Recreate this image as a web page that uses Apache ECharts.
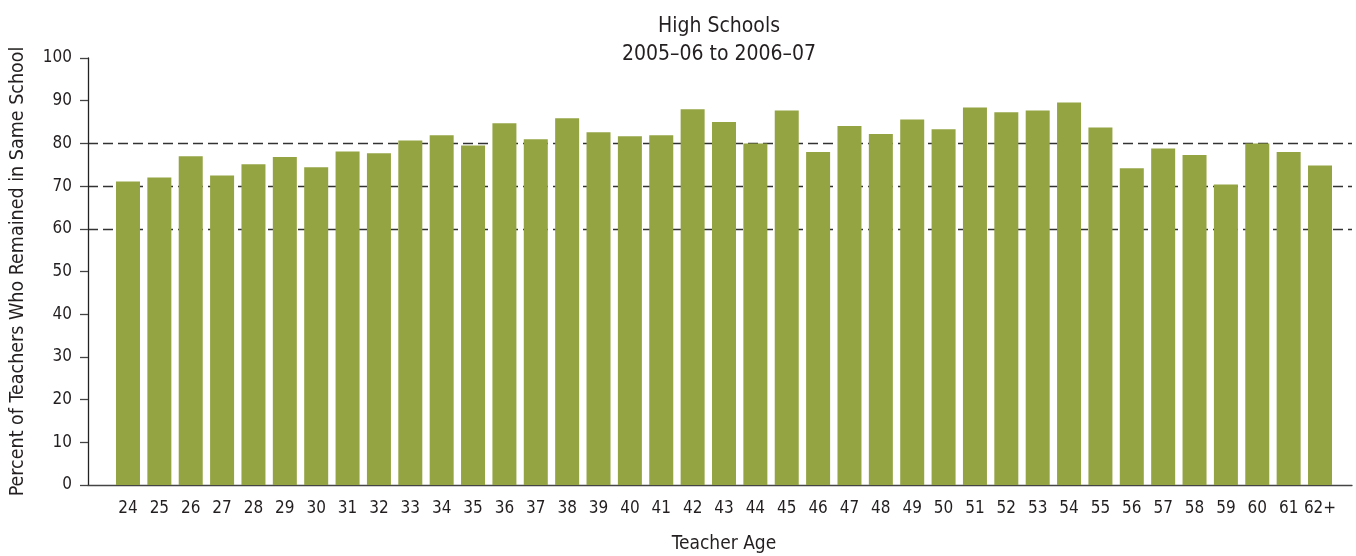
<!DOCTYPE html>
<html>
<head>
<meta charset="utf-8">
<script src="https://cdn.jsdelivr.net/npm/echarts@6/dist/echarts.min.js"></script>
<style>html,body{margin:0;padding:0;background:#fff}#c{width:1356px;height:556px}</style>
</head>
<body>
<div id="c"></div>
<script>
const ages = ['24','25','26','27','28','29','30','31','32','33','34','35','36','37','38','39','40','41','42','43','44','45','46','47','48','49','50','51','52','53','54','55','56','57','58','59','60','61','62+'];
const percentRemained = [71.1,72.0,77.0,72.5,75.1,76.8,74.4,78.1,77.7,80.7,81.9,79.5,84.7,81.0,85.9,82.6,81.7,81.9,88.0,85.0,80.0,87.7,78.0,84.1,82.2,85.6,83.3,88.4,87.3,87.7,89.6,83.7,74.2,78.8,77.3,70.4,80.0,78.0,74.8];
const yTicks = [0,10,20,30,40,50,60,70,80,90,100];
const dashedAt = [60,70,80];

const FONT = "'Liberation Sans Narrow','DejaVu Sans Condensed','Roboto Condensed',sans-serif";
const TXT = '#231f20';
const splitColors = yTicks.map(v => dashedAt.includes(v) ? '#333333' : 'rgba(0,0,0,0)');

const chart = echarts.init(document.getElementById('c'), null, {renderer:'canvas'});
chart.setOption({
  animation: false,
  backgroundColor: '#ffffff',
  title: {
    text: 'High Schools\n2005–06 to 2006–07',
    left: 714, top: 8, textAlign: 'center',
    textStyle: {fontFamily: FONT, fontSize: 21, fontWeight: 'normal', color: TXT, lineHeight: 28}
  },
  grid: [
    {left: 88, right: 4, top: 58, bottom: 71, containLabel: false, outerBoundsMode: 'none'},
    {left: 112.3, right: 20.3, top: 58, bottom: 71, containLabel: false, outerBoundsMode: 'none'}
  ],
  xAxis: [
    {gridIndex: 0, type: 'value', min: 0, max: 1, axisLine: {show: true, onZero: false, lineStyle: {color: '#444', width: 1.3}},
     axisTick: {show: false}, axisLabel: {show: false}, splitLine: {show: false}},
    {gridIndex: 1, type: 'category', data: ages, axisLine: {show: false}, axisTick: {show: false},
     axisLabel: {fontFamily: FONT, fontSize: 17, color: TXT, margin: 15, interval: 0},
     name: 'Teacher Age', nameLocation: 'middle', nameGap: 50,
     nameTextStyle: {fontFamily: FONT, fontSize: 19, color: TXT}}
  ],
  yAxis: [
    {gridIndex: 0, type: 'value', min: 0, max: 100, interval: 10,
     axisLine: {show: true, lineStyle: {color: '#222', width: 1.3}},
     axisTick: {show: true, length: 8, lineStyle: {color: '#444', width: 1.3}},
     axisLabel: {fontFamily: FONT, fontSize: 17, color: TXT, margin: 16},
     splitLine: {show: true, lineStyle: {color: splitColors, type: [10, 5], width: 1.3}},
     name: 'Percent of Teachers Who Remained in Same School', nameLocation: 'middle', nameGap: 60,
     nameTextStyle: {fontFamily: FONT, fontSize: 19.5, color: TXT}},
    {gridIndex: 1, type: 'value', min: 0, max: 100, show: false}
  ],
  series: [{
    type: 'bar', xAxisIndex: 1, yAxisIndex: 1, data: percentRemained,
    barWidth: 24, itemStyle: {color: '#94a443'}
  }]
});
</script>
</body>
</html>
